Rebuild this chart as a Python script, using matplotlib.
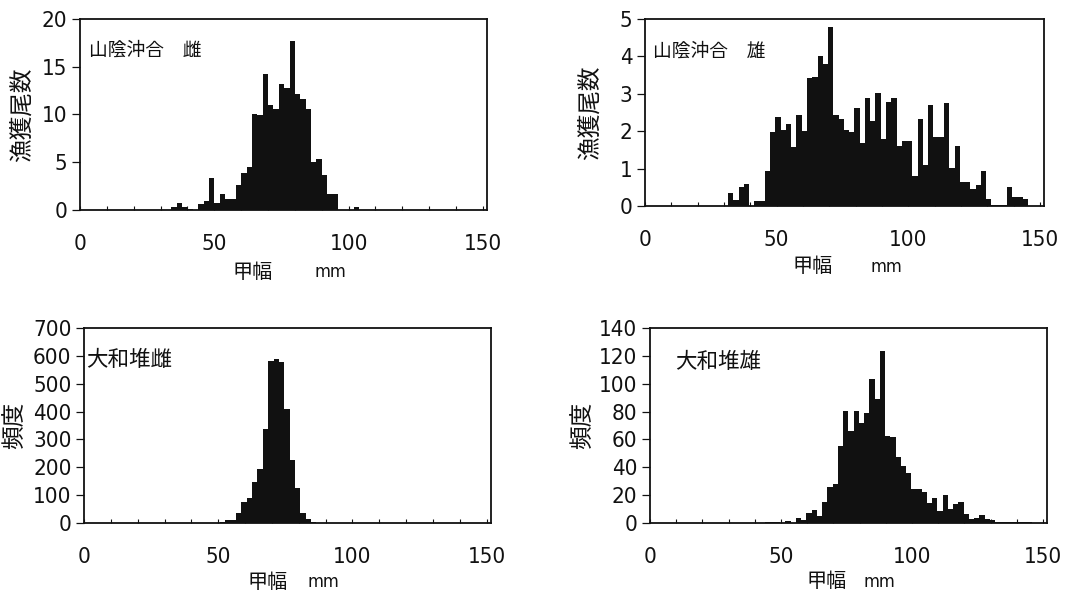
import matplotlib

matplotlib.use('Agg')
import matplotlib.pyplot as plt
import numpy as np
from matplotlib import font_manager

# 日本語フォント（漢字）と数字用フォント（細身の書体があればそれを使う）
JP = ['Noto Sans CJK JP', 'DejaVu Sans']
names = set((f.name, f.stretch) for f in font_manager.fontManager.ttflist)
NUM_STRETCH = 'normal'
if any(n == 'Liberation Sans Narrow' for n, s in names):
    NUM = ['Liberation Sans Narrow', 'DejaVu Sans']
elif ('DejaVu Sans', 'condensed') in names:
    NUM = ['DejaVu Sans']
    NUM_STRETCH = 'condensed'
else:
    NUM = ['Liberation Sans', 'DejaVu Sans']
plt.rcParams['font.family'] = NUM
plt.rcParams['font.stretch'] = NUM_STRETCH

# ---------------- data: 2mm 階級の度数 ----------------
BIN_W = 2

# 山陰沖合 雌（漁獲尾数）
sanin_f_start = 34.0
sanin_f = [0.35, 0.75, 0.35, 0.15, 0.05, 0.6, 0.95, 3.3, 0.75, 1.7,
           1.15, 1.15, 2.6, 3.9, 4.5, 10.0, 9.95, 14.25, 11.0, 10.6,
           13.2, 12.8, 17.7, 12.1, 11.6, 10.6, 5.0, 5.3, 3.7, 1.65,
           1.65, 0, 0, 0, 0.3]

# 山陰沖合 雄（漁獲尾数）
sanin_m_start = 31.5
sanin_m = [0.36, 0.16, 0.5, 0.6, 0, 0.14, 0.14, 0.94, 1.99, 2.39,
           2.02, 2.2, 1.57, 2.43, 2.0, 3.42, 3.46, 4.0, 3.8, 4.78,
           2.43, 2.32, 2.02, 1.98, 2.63, 1.68, 2.89, 2.28, 3.03, 1.8,
           2.78, 2.89, 1.6, 1.73, 1.75, 0.79, 2.34, 1.09, 2.7, 1.84,
           1.84, 2.76, 1.02, 1.6, 0.63, 0.63, 0.45, 0.57, 0.93, 0.18,
           0.02, 0.02, 0.02, 0.52, 0.23, 0.23, 0.18]

# 大和堆 雌（頻度）
yamato_f_start = 48.6
yamato_f = [1, 5, 10, 11, 36, 74, 90, 147, 195, 337,
            580, 590, 577, 408, 228, 127, 37, 14, 5, 1]

# 大和堆 雄（頻度）
yamato_m_start = 43.7
yamato_m = [0.6, 0.8, 0.8, 0.3, 1.8, 0.3, 3.6, 1.9, 7.2, 9.1,
            4.8, 15.1, 25.9, 27.9, 55.2, 80.5, 66, 80.5, 72, 79.2,
            103.3, 89.1, 123.2, 62.4, 62, 47.5, 41.1, 36, 24.3, 24.3,
            22.3, 14.6, 18.3, 8.6, 20.4, 9.8, 13.4, 15.1, 6.2, 3.1,
            3.8, 5.5, 2.6, 1.9, 1.0, 1.0, 0.8, 0.5, 0.5, 0.4,
            0.4, 0.3, 0.3]

x_ticks = [0, 50, 100, 150]

panels = [
    # (rect, start, counts, ymax, ystep, ylabel, title, title_xy, title_size, xlabel_xy, ylabel_x)
    ([0.0736, 0.6459, 0.3744, 0.3221], sanin_f_start, sanin_f, 20, 5,
     '漁獲尾数', '山陰沖合　雌', (0.022, 0.838), 13.5, (0.424, 0.614, -0.325), -0.143),
    ([0.5934, 0.6526, 0.3671, 0.3153], sanin_m_start, sanin_m, 5, 1,
     '漁獲尾数', '山陰沖合　雄', (0.020, 0.829), 13.5, (0.420, 0.605, -0.326), -0.137),
    ([0.0773, 0.1180, 0.3741, 0.3288], yamato_f_start, yamato_f, 700, 100,
     '頻度', '大和堆雌', (0.005, 0.836), 15.5, (0.452, 0.588, -0.305), -0.170),
    ([0.5980, 0.1180, 0.3652, 0.3288], yamato_m_start, yamato_m, 140, 20,
     '頻度', '大和堆雄', (0.063, 0.826), 15.5, (0.446, 0.579, -0.300), -0.170),
]

fig = plt.figure(figsize=(10.87, 5.93), dpi=100)

for rect, start, counts, ymax, ystep, ylab, title, txy, tsize, xl, ylab_x in panels:
    ax = fig.add_axes(rect)
    left = start + BIN_W * np.arange(len(counts))
    ax.bar(left, counts, width=BIN_W, align='edge', color='#111111', linewidth=0)

    ax.set_xlim(0, 151.5)
    ax.set_ylim(0, ymax)
    ax.set_xticks(x_ticks)
    ax.set_xticks(np.arange(0, 151, 10), minor=True)
    ax.set_yticks(np.arange(0, ymax + 1, ystep))
    ax.tick_params(axis='x', which='both', direction='in', length=3, width=0.8,
                   pad=17, labelsize=16, colors='#111111')
    ax.tick_params(axis='y', direction='out', length=6, width=0.9, pad=3,
                   labelsize=16, colors='#111111')
    ax.tick_params(axis='y', which='minor', left=False)
    for sp in ax.spines.values():
        sp.set_linewidth(1.3)
        sp.set_color('#111111')

    # 縦軸ラベル
    ax.text(ylab_x, 0.5, ylab, transform=ax.transAxes, rotation=90,
            ha='center', va='center', fontsize=17, family=JP, color='#111111')
    # 横軸ラベル
    ax.text(xl[0], xl[2], '甲幅', transform=ax.transAxes, ha='center',
            va='center', fontsize=14.5, family=JP, color='#111111')
    ax.text(xl[1], xl[2], 'mm', transform=ax.transAxes, ha='center',
            va='center', fontsize=13, family=NUM, color='#111111')
    # 凡例テキスト
    ax.text(txy[0], txy[1], title, transform=ax.transAxes, ha='left',
            va='center', fontsize=tsize, family=JP, color='#111111')

plt.savefig('out.png', dpi=100)
